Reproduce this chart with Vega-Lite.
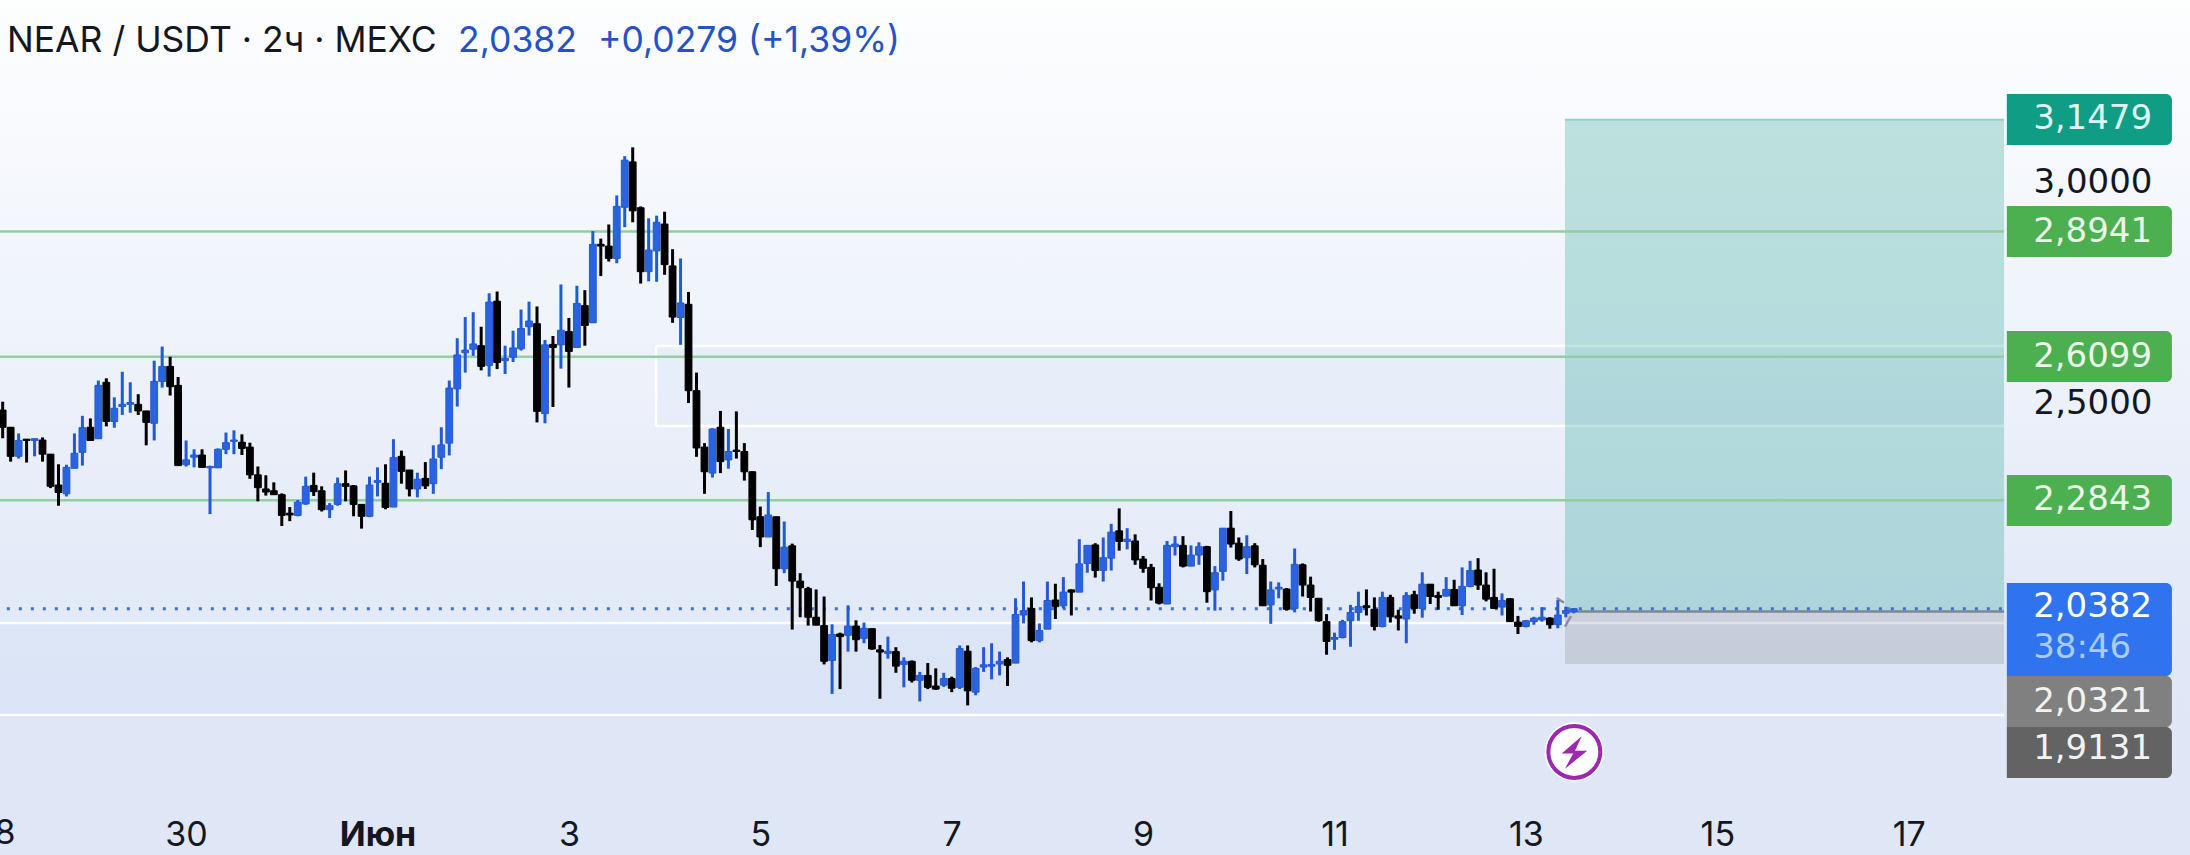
{
  "$schema": "https://vega.github.io/schema/vega-lite/v6.json",
  "width": 2190,
  "height": 855,
  "padding": 0,
  "autosize": {"type": "none"},
  "config": {
    "view": {"stroke": null},
    "axis": {"domain": false, "ticks": false, "grid": false, "labelColor": "#131722", "labelOverlap": false, "labelBound": false, "labelFlush": false, "labelPadding": 0}
  },
  "datasets": {
    "candles": [
      {"t":"2025-05-28T02:00Z","o":2.489,"h":2.508,"l":2.425,"c":2.450},
      {"t":"2025-05-28T04:00Z","o":2.450,"h":2.450,"l":2.372,"c":2.384},
      {"t":"2025-05-28T06:00Z","o":2.384,"h":2.436,"l":2.379,"c":2.420},
      {"t":"2025-05-28T08:00Z","o":2.423,"h":2.423,"l":2.370,"c":2.420},
      {"t":"2025-05-28T10:00Z","o":2.420,"h":2.424,"l":2.384,"c":2.424},
      {"t":"2025-05-28T12:00Z","o":2.421,"h":2.427,"l":2.372,"c":2.389},
      {"t":"2025-05-28T14:00Z","o":2.389,"h":2.389,"l":2.312,"c":2.316},
      {"t":"2025-05-28T16:00Z","o":2.319,"h":2.366,"l":2.272,"c":2.302},
      {"t":"2025-05-28T18:00Z","o":2.299,"h":2.365,"l":2.293,"c":2.359},
      {"t":"2025-05-28T20:00Z","o":2.357,"h":2.436,"l":2.357,"c":2.391},
      {"t":"2025-05-28T22:00Z","o":2.393,"h":2.476,"l":2.363,"c":2.449},
      {"t":"2025-05-29T00:00Z","o":2.450,"h":2.470,"l":2.420,"c":2.420},
      {"t":"2025-05-29T02:00Z","o":2.424,"h":2.556,"l":2.424,"c":2.545},
      {"t":"2025-05-29T04:00Z","o":2.552,"h":2.561,"l":2.452,"c":2.463},
      {"t":"2025-05-29T06:00Z","o":2.463,"h":2.518,"l":2.449,"c":2.493},
      {"t":"2025-05-29T08:00Z","o":2.497,"h":2.576,"l":2.478,"c":2.502},
      {"t":"2025-05-29T10:00Z","o":2.502,"h":2.552,"l":2.483,"c":2.506},
      {"t":"2025-05-29T12:00Z","o":2.502,"h":2.525,"l":2.478,"c":2.487},
      {"t":"2025-05-29T14:00Z","o":2.487,"h":2.487,"l":2.409,"c":2.461},
      {"t":"2025-05-29T16:00Z","o":2.459,"h":2.601,"l":2.420,"c":2.554},
      {"t":"2025-05-29T18:00Z","o":2.554,"h":2.633,"l":2.540,"c":2.588},
      {"t":"2025-05-29T20:00Z","o":2.588,"h":2.610,"l":2.522,"c":2.542},
      {"t":"2025-05-29T22:00Z","o":2.545,"h":2.564,"l":2.363,"c":2.363},
      {"t":"2025-05-30T00:00Z","o":2.365,"h":2.420,"l":2.361,"c":2.376},
      {"t":"2025-05-30T02:00Z","o":2.382,"h":2.400,"l":2.359,"c":2.387},
      {"t":"2025-05-30T04:00Z","o":2.387,"h":2.400,"l":2.359,"c":2.359},
      {"t":"2025-05-30T06:00Z","o":2.358,"h":2.363,"l":2.253,"c":2.361},
      {"t":"2025-05-30T08:00Z","o":2.358,"h":2.402,"l":2.358,"c":2.400},
      {"t":"2025-05-30T10:00Z","o":2.400,"h":2.438,"l":2.389,"c":2.415},
      {"t":"2025-05-30T12:00Z","o":2.418,"h":2.443,"l":2.389,"c":2.421},
      {"t":"2025-05-30T14:00Z","o":2.416,"h":2.434,"l":2.387,"c":2.402},
      {"t":"2025-05-30T16:00Z","o":2.405,"h":2.415,"l":2.333,"c":2.342},
      {"t":"2025-05-30T18:00Z","o":2.342,"h":2.361,"l":2.282,"c":2.313},
      {"t":"2025-05-30T20:00Z","o":2.310,"h":2.341,"l":2.295,"c":2.303},
      {"t":"2025-05-30T22:00Z","o":2.306,"h":2.325,"l":2.297,"c":2.297},
      {"t":"2025-05-31T00:00Z","o":2.297,"h":2.300,"l":2.226,"c":2.250},
      {"t":"2025-05-31T02:00Z","o":2.255,"h":2.269,"l":2.237,"c":2.251},
      {"t":"2025-05-31T04:00Z","o":2.250,"h":2.285,"l":2.248,"c":2.280},
      {"t":"2025-05-31T06:00Z","o":2.276,"h":2.338,"l":2.274,"c":2.316},
      {"t":"2025-05-31T08:00Z","o":2.318,"h":2.347,"l":2.294,"c":2.304},
      {"t":"2025-05-31T10:00Z","o":2.306,"h":2.316,"l":2.259,"c":2.263},
      {"t":"2025-05-31T12:00Z","o":2.263,"h":2.278,"l":2.244,"c":2.272},
      {"t":"2025-05-31T14:00Z","o":2.275,"h":2.336,"l":2.272,"c":2.322},
      {"t":"2025-05-31T16:00Z","o":2.322,"h":2.352,"l":2.282,"c":2.316},
      {"t":"2025-05-31T18:00Z","o":2.317,"h":2.319,"l":2.248,"c":2.275},
      {"t":"2025-05-31T20:00Z","o":2.275,"h":2.275,"l":2.220,"c":2.248},
      {"t":"2025-05-31T22:00Z","o":2.248,"h":2.338,"l":2.246,"c":2.319},
      {"t":"2025-06-01T00:00Z","o":2.325,"h":2.359,"l":2.293,"c":2.329},
      {"t":"2025-06-01T02:00Z","o":2.323,"h":2.366,"l":2.264,"c":2.268},
      {"t":"2025-06-01T04:00Z","o":2.269,"h":2.423,"l":2.269,"c":2.381},
      {"t":"2025-06-01T06:00Z","o":2.384,"h":2.397,"l":2.322,"c":2.350},
      {"t":"2025-06-01T08:00Z","o":2.353,"h":2.353,"l":2.293,"c":2.310},
      {"t":"2025-06-01T10:00Z","o":2.310,"h":2.347,"l":2.291,"c":2.332},
      {"t":"2025-06-01T12:00Z","o":2.334,"h":2.371,"l":2.310,"c":2.317},
      {"t":"2025-06-01T14:00Z","o":2.322,"h":2.409,"l":2.299,"c":2.378},
      {"t":"2025-06-01T16:00Z","o":2.382,"h":2.450,"l":2.355,"c":2.410},
      {"t":"2025-06-01T18:00Z","o":2.414,"h":2.556,"l":2.386,"c":2.539},
      {"t":"2025-06-01T20:00Z","o":2.537,"h":2.652,"l":2.497,"c":2.614},
      {"t":"2025-06-01T22:00Z","o":2.619,"h":2.700,"l":2.574,"c":2.625},
      {"t":"2025-06-02T00:00Z","o":2.627,"h":2.711,"l":2.612,"c":2.639},
      {"t":"2025-06-02T02:00Z","o":2.635,"h":2.678,"l":2.579,"c":2.588},
      {"t":"2025-06-02T04:00Z","o":2.590,"h":2.754,"l":2.565,"c":2.734},
      {"t":"2025-06-02T06:00Z","o":2.736,"h":2.758,"l":2.582,"c":2.597},
      {"t":"2025-06-02T08:00Z","o":2.601,"h":2.635,"l":2.571,"c":2.606},
      {"t":"2025-06-02T10:00Z","o":2.609,"h":2.669,"l":2.598,"c":2.630},
      {"t":"2025-06-02T12:00Z","o":2.628,"h":2.717,"l":2.624,"c":2.674},
      {"t":"2025-06-02T14:00Z","o":2.678,"h":2.735,"l":2.658,"c":2.691},
      {"t":"2025-06-02T16:00Z","o":2.685,"h":2.724,"l":2.461,"c":2.486},
      {"t":"2025-06-02T18:00Z","o":2.481,"h":2.648,"l":2.459,"c":2.637},
      {"t":"2025-06-02T20:00Z","o":2.638,"h":2.657,"l":2.496,"c":2.631},
      {"t":"2025-06-02T22:00Z","o":2.637,"h":2.774,"l":2.583,"c":2.670},
      {"t":"2025-06-03T00:00Z","o":2.667,"h":2.698,"l":2.540,"c":2.622},
      {"t":"2025-06-03T02:00Z","o":2.631,"h":2.771,"l":2.631,"c":2.731},
      {"t":"2025-06-03T04:00Z","o":2.726,"h":2.761,"l":2.635,"c":2.681},
      {"t":"2025-06-03T06:00Z","o":2.687,"h":2.895,"l":2.687,"c":2.865},
      {"t":"2025-06-03T08:00Z","o":2.865,"h":2.878,"l":2.793,"c":2.861},
      {"t":"2025-06-03T10:00Z","o":2.861,"h":2.910,"l":2.826,"c":2.833},
      {"t":"2025-06-03T12:00Z","o":2.833,"h":2.976,"l":2.822,"c":2.951},
      {"t":"2025-06-03T14:00Z","o":2.949,"h":3.065,"l":2.904,"c":3.056},
      {"t":"2025-06-03T16:00Z","o":3.052,"h":3.085,"l":2.915,"c":2.941},
      {"t":"2025-06-03T18:00Z","o":2.948,"h":2.951,"l":2.776,"c":2.803},
      {"t":"2025-06-03T20:00Z","o":2.803,"h":2.924,"l":2.781,"c":2.852},
      {"t":"2025-06-03T22:00Z","o":2.850,"h":2.930,"l":2.780,"c":2.915},
      {"t":"2025-06-04T00:00Z","o":2.911,"h":2.939,"l":2.796,"c":2.819},
      {"t":"2025-06-04T02:00Z","o":2.816,"h":2.854,"l":2.687,"c":2.700},
      {"t":"2025-06-04T04:00Z","o":2.699,"h":2.833,"l":2.637,"c":2.732},
      {"t":"2025-06-04T06:00Z","o":2.729,"h":2.757,"l":2.505,"c":2.533},
      {"t":"2025-06-04T08:00Z","o":2.533,"h":2.574,"l":2.383,"c":2.403},
      {"t":"2025-06-04T10:00Z","o":2.405,"h":2.414,"l":2.299,"c":2.349},
      {"t":"2025-06-04T12:00Z","o":2.346,"h":2.448,"l":2.336,"c":2.446},
      {"t":"2025-06-04T14:00Z","o":2.450,"h":2.487,"l":2.346,"c":2.372},
      {"t":"2025-06-04T16:00Z","o":2.376,"h":2.446,"l":2.356,"c":2.395},
      {"t":"2025-06-04T18:00Z","o":2.398,"h":2.486,"l":2.379,"c":2.395},
      {"t":"2025-06-04T20:00Z","o":2.395,"h":2.414,"l":2.329,"c":2.349},
      {"t":"2025-06-04T22:00Z","o":2.349,"h":2.350,"l":2.217,"c":2.240},
      {"t":"2025-06-05T00:00Z","o":2.247,"h":2.270,"l":2.178,"c":2.201},
      {"t":"2025-06-05T02:00Z","o":2.201,"h":2.303,"l":2.201,"c":2.251},
      {"t":"2025-06-05T04:00Z","o":2.247,"h":2.247,"l":2.090,"c":2.129},
      {"t":"2025-06-05T06:00Z","o":2.129,"h":2.236,"l":2.119,"c":2.178},
      {"t":"2025-06-05T08:00Z","o":2.181,"h":2.186,"l":1.991,"c":2.101},
      {"t":"2025-06-05T10:00Z","o":2.101,"h":2.119,"l":2.019,"c":2.086},
      {"t":"2025-06-05T12:00Z","o":2.084,"h":2.088,"l":2.000,"c":2.019},
      {"t":"2025-06-05T14:00Z","o":2.019,"h":2.082,"l":2.001,"c":2.001},
      {"t":"2025-06-05T16:00Z","o":2.000,"h":2.066,"l":1.912,"c":1.919},
      {"t":"2025-06-05T18:00Z","o":1.921,"h":2.003,"l":1.845,"c":1.980},
      {"t":"2025-06-05T20:00Z","o":1.981,"h":1.984,"l":1.856,"c":1.975},
      {"t":"2025-06-05T22:00Z","o":1.978,"h":2.046,"l":1.941,"c":1.999},
      {"t":"2025-06-06T00:00Z","o":1.999,"h":2.012,"l":1.941,"c":1.968},
      {"t":"2025-06-06T02:00Z","o":1.971,"h":2.007,"l":1.960,"c":1.994},
      {"t":"2025-06-06T04:00Z","o":1.993,"h":1.993,"l":1.945,"c":1.947},
      {"t":"2025-06-06T06:00Z","o":1.945,"h":1.956,"l":1.834,"c":1.940},
      {"t":"2025-06-06T08:00Z","o":1.937,"h":1.975,"l":1.925,"c":1.942},
      {"t":"2025-06-06T10:00Z","o":1.941,"h":1.951,"l":1.893,"c":1.908},
      {"t":"2025-06-06T12:00Z","o":1.912,"h":1.928,"l":1.860,"c":1.919},
      {"t":"2025-06-06T14:00Z","o":1.919,"h":1.921,"l":1.871,"c":1.876},
      {"t":"2025-06-06T16:00Z","o":1.876,"h":1.895,"l":1.828,"c":1.887},
      {"t":"2025-06-06T18:00Z","o":1.887,"h":1.915,"l":1.856,"c":1.860},
      {"t":"2025-06-06T20:00Z","o":1.863,"h":1.903,"l":1.854,"c":1.856},
      {"t":"2025-06-06T22:00Z","o":1.865,"h":1.893,"l":1.861,"c":1.880},
      {"t":"2025-06-07T00:00Z","o":1.880,"h":1.884,"l":1.849,"c":1.858},
      {"t":"2025-06-07T02:00Z","o":1.860,"h":1.955,"l":1.856,"c":1.948},
      {"t":"2025-06-07T04:00Z","o":1.942,"h":1.955,"l":1.819,"c":1.852},
      {"t":"2025-06-07T06:00Z","o":1.849,"h":1.906,"l":1.842,"c":1.903},
      {"t":"2025-06-07T08:00Z","o":1.906,"h":1.951,"l":1.895,"c":1.911},
      {"t":"2025-06-07T10:00Z","o":1.908,"h":1.960,"l":1.878,"c":1.912},
      {"t":"2025-06-07T12:00Z","o":1.913,"h":1.941,"l":1.887,"c":1.919},
      {"t":"2025-06-07T14:00Z","o":1.923,"h":1.928,"l":1.863,"c":1.910},
      {"t":"2025-06-07T16:00Z","o":1.915,"h":2.062,"l":1.915,"c":2.025},
      {"t":"2025-06-07T18:00Z","o":2.024,"h":2.100,"l":2.005,"c":2.034},
      {"t":"2025-06-07T20:00Z","o":2.039,"h":2.064,"l":1.962,"c":1.966},
      {"t":"2025-06-07T22:00Z","o":1.966,"h":2.005,"l":1.962,"c":1.989},
      {"t":"2025-06-08T00:00Z","o":1.992,"h":2.100,"l":1.992,"c":2.057},
      {"t":"2025-06-08T02:00Z","o":2.058,"h":2.095,"l":2.015,"c":2.043},
      {"t":"2025-06-08T04:00Z","o":2.045,"h":2.110,"l":2.039,"c":2.076},
      {"t":"2025-06-08T06:00Z","o":2.081,"h":2.082,"l":2.023,"c":2.076},
      {"t":"2025-06-08T08:00Z","o":2.076,"h":2.196,"l":2.076,"c":2.140},
      {"t":"2025-06-08T10:00Z","o":2.141,"h":2.183,"l":2.120,"c":2.182},
      {"t":"2025-06-08T12:00Z","o":2.183,"h":2.187,"l":2.109,"c":2.125},
      {"t":"2025-06-08T14:00Z","o":2.125,"h":2.200,"l":2.100,"c":2.154},
      {"t":"2025-06-08T16:00Z","o":2.153,"h":2.231,"l":2.125,"c":2.212},
      {"t":"2025-06-08T18:00Z","o":2.215,"h":2.266,"l":2.170,"c":2.191},
      {"t":"2025-06-08T20:00Z","o":2.191,"h":2.221,"l":2.173,"c":2.196},
      {"t":"2025-06-08T22:00Z","o":2.192,"h":2.207,"l":2.138,"c":2.149},
      {"t":"2025-06-09T00:00Z","o":2.151,"h":2.158,"l":2.120,"c":2.130},
      {"t":"2025-06-09T02:00Z","o":2.132,"h":2.140,"l":2.057,"c":2.086},
      {"t":"2025-06-09T04:00Z","o":2.087,"h":2.096,"l":2.048,"c":2.051},
      {"t":"2025-06-09T06:00Z","o":2.049,"h":2.192,"l":2.049,"c":2.182},
      {"t":"2025-06-09T08:00Z","o":2.179,"h":2.203,"l":2.159,"c":2.185},
      {"t":"2025-06-09T10:00Z","o":2.182,"h":2.203,"l":2.132,"c":2.135},
      {"t":"2025-06-09T12:00Z","o":2.135,"h":2.182,"l":2.135,"c":2.160},
      {"t":"2025-06-09T14:00Z","o":2.160,"h":2.189,"l":2.138,"c":2.179},
      {"t":"2025-06-09T16:00Z","o":2.179,"h":2.181,"l":2.052,"c":2.077},
      {"t":"2025-06-09T18:00Z","o":2.081,"h":2.135,"l":2.034,"c":2.120},
      {"t":"2025-06-09T20:00Z","o":2.123,"h":2.221,"l":2.102,"c":2.221},
      {"t":"2025-06-09T22:00Z","o":2.221,"h":2.260,"l":2.177,"c":2.185},
      {"t":"2025-06-10T00:00Z","o":2.187,"h":2.200,"l":2.147,"c":2.151},
      {"t":"2025-06-10T02:00Z","o":2.154,"h":2.205,"l":2.117,"c":2.179},
      {"t":"2025-06-10T04:00Z","o":2.181,"h":2.187,"l":2.132,"c":2.138},
      {"t":"2025-06-10T06:00Z","o":2.137,"h":2.151,"l":2.045,"c":2.045},
      {"t":"2025-06-10T08:00Z","o":2.047,"h":2.100,"l":2.004,"c":2.081},
      {"t":"2025-06-10T10:00Z","o":2.083,"h":2.098,"l":2.062,"c":2.087},
      {"t":"2025-06-10T12:00Z","o":2.083,"h":2.085,"l":2.034,"c":2.037},
      {"t":"2025-06-10T14:00Z","o":2.039,"h":2.175,"l":2.030,"c":2.139},
      {"t":"2025-06-10T16:00Z","o":2.138,"h":2.141,"l":2.066,"c":2.092},
      {"t":"2025-06-10T18:00Z","o":2.092,"h":2.111,"l":2.032,"c":2.064},
      {"t":"2025-06-10T20:00Z","o":2.062,"h":2.062,"l":2.009,"c":2.011},
      {"t":"2025-06-10T22:00Z","o":2.009,"h":2.026,"l":1.934,"c":1.964},
      {"t":"2025-06-11T00:00Z","o":1.969,"h":1.984,"l":1.945,"c":1.973},
      {"t":"2025-06-11T02:00Z","o":1.973,"h":2.013,"l":1.971,"c":2.009},
      {"t":"2025-06-11T04:00Z","o":2.011,"h":2.047,"l":1.952,"c":2.030},
      {"t":"2025-06-11T06:00Z","o":2.030,"h":2.077,"l":2.011,"c":2.043},
      {"t":"2025-06-11T08:00Z","o":2.045,"h":2.082,"l":2.023,"c":2.041},
      {"t":"2025-06-11T10:00Z","o":2.037,"h":2.064,"l":1.989,"c":1.998},
      {"t":"2025-06-11T12:00Z","o":1.998,"h":2.077,"l":1.996,"c":2.064},
      {"t":"2025-06-11T14:00Z","o":2.064,"h":2.070,"l":2.007,"c":2.020},
      {"t":"2025-06-11T16:00Z","o":2.022,"h":2.036,"l":1.989,"c":2.017},
      {"t":"2025-06-11T18:00Z","o":2.015,"h":2.076,"l":1.960,"c":2.068},
      {"t":"2025-06-11T20:00Z","o":2.070,"h":2.079,"l":2.027,"c":2.039},
      {"t":"2025-06-11T22:00Z","o":2.039,"h":2.121,"l":2.018,"c":2.094},
      {"t":"2025-06-12T00:00Z","o":2.094,"h":2.094,"l":2.049,"c":2.066},
      {"t":"2025-06-12T02:00Z","o":2.068,"h":2.077,"l":2.036,"c":2.064},
      {"t":"2025-06-12T04:00Z","o":2.067,"h":2.110,"l":2.066,"c":2.082},
      {"t":"2025-06-12T06:00Z","o":2.082,"h":2.104,"l":2.045,"c":2.045},
      {"t":"2025-06-12T08:00Z","o":2.045,"h":2.132,"l":2.024,"c":2.089},
      {"t":"2025-06-12T10:00Z","o":2.089,"h":2.147,"l":2.087,"c":2.125},
      {"t":"2025-06-12T12:00Z","o":2.126,"h":2.153,"l":2.081,"c":2.092},
      {"t":"2025-06-12T14:00Z","o":2.092,"h":2.121,"l":2.055,"c":2.060},
      {"t":"2025-06-12T16:00Z","o":2.064,"h":2.129,"l":2.038,"c":2.039},
      {"t":"2025-06-12T18:00Z","o":2.042,"h":2.073,"l":2.023,"c":2.057},
      {"t":"2025-06-12T20:00Z","o":2.061,"h":2.062,"l":2.009,"c":2.009},
      {"t":"2025-06-12T22:00Z","o":2.008,"h":2.022,"l":1.981,"c":1.998},
      {"t":"2025-06-13T00:00Z","o":1.998,"h":2.013,"l":1.996,"c":2.011},
      {"t":"2025-06-13T02:00Z","o":2.009,"h":2.020,"l":2.002,"c":2.017},
      {"t":"2025-06-13T04:00Z","o":2.013,"h":2.042,"l":2.009,"c":2.019},
      {"t":"2025-06-13T06:00Z","o":2.017,"h":2.019,"l":1.993,"c":2.002},
      {"t":"2025-06-13T08:00Z","o":2.002,"h":2.058,"l":1.994,"c":2.024},
      {"t":"2025-06-13T10:00Z","o":2.028,"h":2.043,"l":2.019,"c":2.034},
      {"t":"2025-06-13T12:00Z","o":2.032,"h":2.040,"l":2.028,"c":2.0382}
    ],
    "levels": [
      {"start":"2025-05-27T12:00Z","end":"2025-06-17T23:54Z","p":2.8941},
      {"start":"2025-05-27T12:00Z","end":"2025-06-17T23:54Z","p":2.6099},
      {"start":"2025-05-27T12:00Z","end":"2025-06-17T23:54Z","p":2.2843}
    ],
    "zones": [
      {"start":"2025-06-03T21:50Z","end":"2025-06-17T23:54Z","top":2.6343,"bottom":2.4529},
      {"start":"2025-05-27T12:00Z","end":"2025-06-17T23:54Z","top":2.0060,"bottom":1.7972}
    ],
    "zoneEdges": [
      {"start":"2025-06-03T21:50Z","end":"2025-06-17T23:54Z","p":2.6343},
      {"start":"2025-06-03T21:50Z","end":"2025-06-17T23:54Z","p":2.4529},
      {"start":"2025-05-27T12:00Z","end":"2025-06-17T23:54Z","p":2.0060},
      {"start":"2025-05-27T12:00Z","end":"2025-06-17T23:54Z","p":1.7972}
    ],
    "tags": [
      {"start":"2025-06-18T00:36Z","end":"2025-06-19T18:00Z","top":3.2060,"bottom":3.0903,"kind":"target"},
      {"start":"2025-06-18T00:36Z","end":"2025-06-19T18:00Z","top":2.9519,"bottom":2.8363,"kind":"level"},
      {"start":"2025-06-18T00:36Z","end":"2025-06-19T18:00Z","top":2.6684,"bottom":2.5527,"kind":"level"},
      {"start":"2025-06-18T00:36Z","end":"2025-06-19T18:00Z","top":2.3417,"bottom":2.2260,"kind":"level"},
      {"start":"2025-06-18T00:36Z","end":"2025-06-19T18:00Z","top":2.0967,"bottom":1.8857,"kind":"last"},
      {"start":"2025-06-18T00:36Z","end":"2025-06-19T18:00Z","top":1.8857,"bottom":1.7700,"kind":"entry"},
      {"start":"2025-06-18T00:36Z","end":"2025-06-19T18:00Z","top":1.7700,"bottom":1.6543,"kind":"stop"}
    ],
    "tagText": [
      {"t":"2025-06-18T07:12Z","p":3.1482,"label":"3,1479","kind":"target"},
      {"t":"2025-06-18T07:12Z","p":2.8941,"label":"2,8941","kind":"level"},
      {"t":"2025-06-18T07:12Z","p":2.6099,"label":"2,6099","kind":"level"},
      {"t":"2025-06-18T07:12Z","p":2.2843,"label":"2,2843","kind":"level"},
      {"t":"2025-06-18T07:12Z","p":2.0422,"label":"2,0382","kind":"last"},
      {"t":"2025-06-18T07:12Z","p":1.9492,"label":"38:46","kind":"timer"},
      {"t":"2025-06-18T07:12Z","p":1.8267,"label":"2,0321","kind":"entry"},
      {"t":"2025-06-18T07:12Z","p":1.7201,"label":"1,9131","kind":"stop"}
    ],
    "arrow": [
      {"a":"2025-06-13T09:48Z","b":"2025-06-13T11:18Z","p":1.9975,"q":2.0218},
      {"a":"2025-06-13T07:43Z","b":"2025-06-13T09:34Z","p":2.0627,"q":2.0520}
    ]
  },
  "data": {"values": [{"left":"2025-05-27T12:00Z","right":"2025-06-20T12:00Z","top":3.5,"bottom":1.4}]},
  "layer": [
    {
      "mark": {
        "type": "rect",
        "clip": true,
        "fill": {
          "x1": 0, "y1": 0, "x2": 0, "y2": 1,
          "gradient": "linear",
          "stops": [
            {"offset": 0, "color": "#ffffff"},
            {"offset": 0.75, "color": "#e0e8f7"},
            {"offset": 1, "color": "#dfe6f6"}
          ]
        }
      },
      "encoding": {
        "x": {
          "field": "left",
          "type": "temporal",
          "title": null,
          "scale": {"type": "utc", "nice": false, "padding": 0, "domain": ["2025-05-28T01:20Z", "2025-06-19T22:32Z"]},
          "axis": {
            "values": ["2025-05-30T00:00Z","2025-06-01T00:00Z","2025-06-03T00:00Z","2025-06-05T00:00Z","2025-06-07T00:00Z","2025-06-09T00:00Z","2025-06-11T00:00Z","2025-06-13T00:00Z","2025-06-15T00:00Z","2025-06-17T00:00Z"],
            "labelExpr": "utcdate(datum.value) == 1 ? 'Июн' : '' + utcdate(datum.value)",
            "labelFontWeight": {"condition": {"test": "utcdate(datum.value) == 1", "value": "bold"}, "value": "normal"},
            "offset": -20,
            "labelBaseline": "middle",
            "labelFont": "Inter",
            "labelFontSize": 34,
            "zindex": 1
          }
        },
        "x2": {"field": "right"},
        "y": {
          "field": "top",
          "type": "quantitative",
          "title": null,
          "scale": {"domain": [1.4796, 3.4193], "nice": false, "zero": false},
          "axis": {
            "orient": "right",
            "values": [3, 2.5],
            "labelExpr": "replace(format(datum.value, '.4f'), '.', ',')",
            "offset": -157,
            "labelAlign": "left",
            "labelOffset": -2,
            "labelFont": "DejaVu Sans",
            "labelFontSize": 34,
            "zindex": 1
          }
        },
        "y2": {"field": "bottom"}
      }
    },
    {
      "data": {"values": [{"t": "2025-05-28T00:00Z", "p": 1.5273, "label": "28"}]},
      "mark": {"type": "text", "align": "center", "baseline": "middle", "font": "Inter", "fontSize": 34, "fill": "#131722"},
      "encoding": {
        "x": {"field": "t", "type": "temporal", "title": null},
        "y": {"field": "p", "type": "quantitative", "title": null},
        "text": {"field": "label"}
      }
    },
    {
      "data": {"name": "zones"},
      "mark": {"type": "rect", "clip": true, "fill": "#2f6fe0", "fillOpacity": 0.025},
      "encoding": {
        "x": {"field": "start", "type": "temporal", "title": null},
        "x2": {"field": "end"},
        "y": {"field": "top", "type": "quantitative", "title": null},
        "y2": {"field": "bottom"}
      }
    },
    {
      "data": {"name": "zoneEdges"},
      "mark": {"type": "rule", "clip": true, "color": "#ffffff", "strokeWidth": 2.5},
      "encoding": {
        "x": {"field": "start", "type": "temporal", "title": null},
        "x2": {"field": "end"},
        "y": {"field": "p", "type": "quantitative", "title": null}
      }
    },
    {
      "data": {"values": [{"t": "2025-06-03T21:50Z", "p": 2.6343, "q": 2.4529}]},
      "mark": {"type": "rule", "color": "#ffffff", "strokeWidth": 2.5},
      "encoding": {
        "x": {"field": "t", "type": "temporal", "title": null},
        "y": {"field": "p", "type": "quantitative", "title": null},
        "y2": {"field": "q"}
      }
    },
    {
      "data": {"values": [{"start":"2025-06-13T09:48Z","end":"2025-06-17T23:54Z","top":3.1479,"entry":2.0321,"stop":1.9131}]},
      "layer": [
        {
          "mark": {"type": "rect", "fill": "#0a9682", "fillOpacity": 0.25},
          "encoding": {"y": {"field": "top", "type": "quantitative", "title": null}, "y2": {"field": "entry"}}
        },
        {
          "mark": {"type": "rect", "fill": "#707070", "fillOpacity": 0.2},
          "encoding": {"y": {"field": "entry", "type": "quantitative", "title": null}, "y2": {"field": "stop"}}
        },
        {
          "mark": {"type": "rule", "color": "#93cfc2", "strokeWidth": 2},
          "encoding": {"y": {"field": "top", "type": "quantitative", "title": null}}
        },
        {
          "mark": {"type": "rule", "color": "#7d8790", "strokeWidth": 2.5},
          "encoding": {"y": {"field": "entry", "type": "quantitative", "title": null}}
        }
      ],
      "encoding": {
        "x": {"field": "start", "type": "temporal", "title": null},
        "x2": {"field": "end"}
      }
    },
    {
      "data": {"name": "levels"},
      "mark": {"type": "rule", "clip": true, "color": "#93cda0", "strokeWidth": 2.5},
      "encoding": {
        "x": {"field": "start", "type": "temporal", "title": null},
        "x2": {"field": "end"},
        "y": {"field": "p", "type": "quantitative", "title": null}
      }
    },
    {
      "data": {"values": [{"start":"2025-05-27T12:00Z","end":"2025-06-17T23:54Z","p": 2.0382}]},
      "mark": {"type": "rule", "clip": true, "color": "#3f6fd0", "strokeWidth": 3, "strokeDash": [3, 9]},
      "encoding": {
        "x": {"field": "start", "type": "temporal", "title": null},
        "x2": {"field": "end"},
        "y": {"field": "p", "type": "quantitative", "title": null}
      }
    },
    {
      "data": {"name": "arrow"},
      "mark": {"type": "rule", "color": "#8a8f9c", "strokeWidth": 2.5},
      "encoding": {
        "x": {"field": "a", "type": "temporal", "title": null},
        "x2": {"field": "b"},
        "y": {"field": "p", "type": "quantitative", "title": null},
        "y2": {"field": "q"}
      }
    },
    {
      "data": {"name": "candles"},
      "mark": {"type": "rule", "strokeWidth": 3, "clip": true},
      "encoding": {
        "x": {"field": "t", "type": "temporal", "title": null},
        "y": {"field": "l", "type": "quantitative", "title": null},
        "y2": {"field": "h"},
        "color": {"condition": {"test": "datum.c >= datum.o", "value": "#2459d6"}, "value": "#000000"}
      }
    },
    {
      "data": {"name": "candles"},
      "mark": {"type": "bar", "size": 6.8, "strokeWidth": 1, "clip": true},
      "encoding": {
        "x": {"field": "t", "type": "temporal", "title": null, "scale": {"padding": 0}},
        "y": {"field": "o", "type": "quantitative", "title": null},
        "y2": {"field": "c"},
        "fill": {"condition": {"test": "datum.c >= datum.o", "value": "#2a63e0"}, "value": "#000000"},
        "stroke": {"condition": {"test": "datum.c >= datum.o", "value": "#2459d6"}, "value": "#000000"}
      }
    },
    {
      "data": {"values": [{"t": "2025-06-13T12:08Z", "p": 1.7135}]},
      "encoding": {
        "x": {"field": "t", "type": "temporal", "title": null},
        "y": {"field": "p", "type": "quantitative", "title": null}
      },
      "layer": [
        {"mark": {"type": "point", "shape": "circle", "size": 3500, "filled": true, "color": "#ffffff", "opacity": 1}},
        {"mark": {"type": "point", "shape": "circle", "size": 2700, "fill": "#ffffff", "stroke": "#9c27b0", "strokeWidth": 4, "opacity": 1}},
        {"mark": {"type": "point", "shape": "M 0.41 -0.87 L -0.7 0.09 L -0.06 0.09 L -0.52 0.93 L 0.72 -0.06 L 0.04 -0.06 Z", "size": 1296, "filled": true, "color": "#9c27b0", "opacity": 1}}
      ]
    },
    {
      "data": {"name": "tags"},
      "mark": {"type": "rect", "cornerRadiusTopRight": 6, "cornerRadiusBottomRight": 6},
      "encoding": {
        "x": {"field": "start", "type": "temporal", "title": null},
        "x2": {"field": "end"},
        "y": {"field": "top", "type": "quantitative", "title": null},
        "y2": {"field": "bottom"},
        "fill": {
          "field": "kind",
          "type": "nominal",
          "legend": null,
          "scale": {"domain": ["target", "level", "last", "entry", "stop"], "range": ["#0f9d85", "#4caf50", "#2f74ee", "#808080", "#636363"]}
        }
      }
    },
    {
      "data": {"name": "tagText"},
      "mark": {"type": "text", "align": "left", "baseline": "middle", "font": "DejaVu Sans", "fontSize": 34},
      "encoding": {
        "x": {"field": "t", "type": "temporal", "title": null},
        "y": {"field": "p", "type": "quantitative", "title": null},
        "text": {"field": "label"},
        "color": {
          "field": "kind",
          "type": "nominal",
          "legend": null,
          "scale": {"domain": ["target", "level", "last", "timer", "entry", "stop"], "range": ["#dff5f0", "#eaf7ea", "#ffffff", "#a9cdfb", "#f2f2f2", "#f2f2f2"]}
        }
      }
    },
    {
      "data": {"values": [{"t": "2025-05-28T03:05Z", "p": 3.3274, "label": "NEAR / USDT · 2ч · MEXC"}]},
      "mark": {"type": "text", "align": "left", "baseline": "middle", "font": "Inter", "fontSize": 35.5, "fill": "#131722"},
      "encoding": {
        "x": {"field": "t", "type": "temporal", "title": null},
        "y": {"field": "p", "type": "quantitative", "title": null},
        "text": {"field": "label"}
      }
    },
    {
      "data": {"values": [
        {"t": "2025-06-01T20:12Z", "p": 3.3274, "label": "2,0382"},
        {"t": "2025-06-03T07:18Z", "p": 3.3274, "label": "+0,0279 (+1,39%)"}
      ]},
      "mark": {"type": "text", "align": "left", "baseline": "middle", "font": "Inter", "fontSize": 35.5, "fill": "#2453c8"},
      "encoding": {
        "x": {"field": "t", "type": "temporal", "title": null},
        "y": {"field": "p", "type": "quantitative", "title": null},
        "text": {"field": "label"}
      }
    }
  ]
}
